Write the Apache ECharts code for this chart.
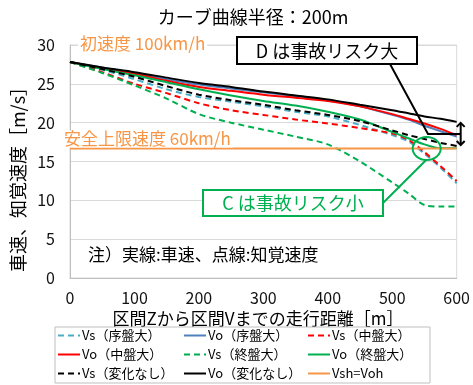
<!DOCTYPE html>
<html>
<head>
<meta charset="utf-8">
<script src="https://cdn.jsdelivr.net/npm/echarts@6/dist/echarts.min.js"></script>
<style>
  html, body { margin: 0; padding: 0; background: #fff; }
  #chart { width: 473px; height: 385px; }
</style>
</head>
<body>
<div id="chart"></div>
<script>
// 走行距離 [m]
const dist = [0, 50, 100, 150, 200, 250, 300, 350, 400, 450, 500, 525, 550, 575, 600];

// 知覚速度 Vs / 車速 Vo [m/s]
const vsEarly  = [27.8, 26.8, 25.6, 24.3, 23.3, 22.7, 22.1, 21.4, 20.8, 19.7, 18.4, 17.6, 16.0, 14.2, 12.2];
const voEarly  = [27.8, 27.1, 26.4, 25.6, 24.9, 24.4, 23.9, 23.4, 22.9, 22.1, 21.0, 20.4, 19.6, 18.9, 18.2];
const vsMid    = [27.8, 26.5, 25.0, 23.8, 22.5, 21.6, 21.0, 20.4, 19.9, 19.3, 18.6, 17.8, 16.2, 14.4, 12.5];
const voMid    = [27.8, 27.0, 26.3, 25.4, 24.6, 24.1, 23.6, 23.2, 22.8, 22.1, 21.1, 20.5, 19.9, 19.2, 18.4];
const vsLate   = [27.8, 26.4, 24.8, 23.1, 21.1, 20.0, 19.1, 18.2, 17.2, 15.0, 12.3, 10.9, 9.4, 9.2, 9.2];
const voLate   = [27.8, 26.9, 26.1, 25.2, 24.3, 23.5, 22.8, 22.2, 21.4, 20.4, 18.8, 18.0, 17.2, 16.7, 16.7];
const vsNone   = [27.8, 26.9, 25.9, 24.7, 23.6, 22.9, 22.3, 21.6, 21.0, 20.2, 19.0, 18.4, 17.9, 17.4, 17.0];
const voNone   = [27.8, 27.1, 26.5, 25.8, 25.1, 24.6, 24.0, 23.5, 23.0, 22.3, 21.6, 21.2, 20.8, 20.5, 20.1];
// 安全上限速度 60km/h
const limitDist = [0, 600];
const limitSpeed = [16.67, 16.67];

const yTicks = { min: 0, max: 30, step: 5 };
const xTicks = { min: 0, max: 600, step: 100 };

const FONT = "'Noto Sans CJK JP', 'Noto Sans', sans-serif";
const ORANGE = '#F79646';
const GREEN = '#00B050';

const pairs = (xs, ys) => xs.map((x, i) => [x, ys[i]]);

const seriesDefs = [
  { name: 'Vs（序盤大）', data: vsEarly, color: '#4BACC6', dashed: true },
  { name: 'Vo（序盤大）', data: voEarly, color: '#4F81BD', dashed: false },
  { name: 'Vs（中盤大）', data: vsMid,   color: '#FF0000', dashed: true },
  { name: 'Vo（中盤大）', data: voMid,   color: '#FF0000', dashed: false },
  { name: 'Vs（終盤大）', data: vsLate,  color: GREEN,     dashed: true },
  { name: 'Vo（終盤大）', data: voLate,  color: GREEN,     dashed: false },
  { name: 'Vs（変化なし）', data: vsNone, color: '#000000', dashed: true },
  { name: 'Vo（変化なし）', data: voNone, color: '#000000', dashed: false }
];

const series = seriesDefs.map(d => ({
  name: d.name,
  type: 'line',
  data: pairs(dist, d.data),
  smooth: 0.3,
  symbol: 'none',
  showSymbol: false,
  color: d.color,
  lineStyle: { color: d.color, width: 2, type: d.dashed ? [6, 4] : 'solid' }
}));
series.push({
  name: 'Vsh=Voh',
  type: 'line',
  data: pairs(limitDist, limitSpeed),
  symbol: 'none',
  showSymbol: false,
  color: ORANGE,
  lineStyle: { color: ORANGE, width: 2 }
});

const names = series.map(s => s.name);
const legendCommon = {
  orient: 'vertical',
  top: 329,
  itemWidth: 22,
  itemHeight: 12,
  itemGap: 6,
  padding: 0,
  itemStyle: { opacity: 0 },
  textStyle: { fontFamily: FONT, fontSize: 13, color: '#000', padding: [0, 0, 0, -3] }
};

const chart = echarts.init(document.getElementById('chart'), null, { renderer: 'canvas' });

chart.setOption({
  animation: false,
  backgroundColor: '#fff',
  textStyle: { fontFamily: FONT },
  grid: { left: 70, top: 45, width: 388, height: 233, show: true, borderColor: '#D9D9D9', borderWidth: 1 },
  xAxis: {
    type: 'value', min: xTicks.min, max: xTicks.max, interval: xTicks.step,
    axisLine: { show: true, lineStyle: { color: '#BFBFBF', width: 1 } },
    axisTick: { show: false },
    splitLine: { show: false },
    axisLabel: { color: '#111', fontSize: 16, margin: 12, fontFamily: FONT }
  },
  yAxis: {
    type: 'value', min: yTicks.min, max: yTicks.max, interval: yTicks.step,
    axisLine: { show: true, lineStyle: { color: '#BFBFBF', width: 1 } },
    axisTick: { show: false },
    splitLine: { show: true, lineStyle: { color: '#D9D9D9', width: 1 } },
    axisLabel: { color: '#111', fontSize: 16, margin: 15, fontFamily: FONT }
  },
  legend: [
    Object.assign({}, legendCommon, { left: 57, data: [names[0], names[3], names[6]] }),
    Object.assign({}, legendCommon, { left: 183, data: [names[1], names[4], names[7]] }),
    Object.assign({}, legendCommon, { left: 307, data: [names[2], names[5], names[8]] })
  ],
  series: series
});

// 注記（矢印・円は軸座標から位置を求める）
const px = p => chart.convertToPixel({ xAxisIndex: 0, yAxisIndex: 0 }, p);
const lastIdx = dist.length - 1;
const dTop = px([dist[lastIdx], voNone[lastIdx]]);
const dBot = px([dist[lastIdx], vsNone[lastIdx]]);
const arrowX = dTop[0] + 4;
const dMidY = (dTop[1] + dBot[1]) / 2;
const cPt = px([555, limitSpeed[0]]);

chart.setOption({
  graphic: [
    { type: 'text', x: 253, y: 17, style: { text: 'カーブ曲線半径：200m', font: '18px ' + FONT, fill: '#000', align: 'center', verticalAlign: 'middle' } },
    { type: 'text', x: 18, y: 175, rotation: Math.PI / 2, style: { text: '車速、知覚速度［m/s］', font: '18px ' + FONT, fill: '#000', align: 'center', verticalAlign: 'middle' } },
    { type: 'text', x: 258, y: 319, style: { text: '区間Zから区間Vまでの走行距離［m］', font: '17px ' + FONT, fill: '#000', align: 'center', verticalAlign: 'middle' } },
    { type: 'text', x: 78, y: 44, z: 10, style: { text: '初速度 100km/h', font: '17px ' + FONT, fill: ORANGE, verticalAlign: 'middle', backgroundColor: '#fff', padding: [0, 2] } },
    { type: 'text', x: 62, y: 139, z: 10, style: { text: '安全上限速度 60km/h', font: '17px ' + FONT, fill: ORANGE, verticalAlign: 'middle', backgroundColor: '#fff', padding: [0, 2] } },
    { type: 'text', x: 88, y: 255, z: 10, style: { text: '注）実線:車速、点線:知覚速度', font: '17px ' + FONT, fill: '#000', verticalAlign: 'middle' } },
    // D 注記
    { type: 'polyline', z: 20, shape: { points: [[390, 64], [428, dMidY], [arrowX, dMidY]] }, style: { stroke: '#000', lineWidth: 2, fill: null } },
    { type: 'rect', z: 21, shape: { x: 237, y: 37, width: 180, height: 27 }, style: { fill: '#fff', stroke: '#000', lineWidth: 2 } },
    { type: 'text', z: 22, x: 327, y: 51, style: { text: 'D は事故リスク大', font: '18px ' + FONT, fill: '#000', align: 'center', verticalAlign: 'middle' } },
    { type: 'line', z: 20, shape: { x1: arrowX, y1: dTop[1] + 1, x2: arrowX, y2: dBot[1] - 1 }, style: { stroke: '#000', lineWidth: 2 } },
    { type: 'polyline', z: 20, shape: { points: [[arrowX - 4, dTop[1] + 5], [arrowX, dTop[1] + 1], [arrowX + 4, dTop[1] + 5]] }, style: { stroke: '#000', lineWidth: 2, fill: null } },
    { type: 'polyline', z: 20, shape: { points: [[arrowX - 4, dBot[1] - 5], [arrowX, dBot[1] - 1], [arrowX + 4, dBot[1] - 5]] }, style: { stroke: '#000', lineWidth: 2, fill: null } },
    // C 注記
    { type: 'ellipse', z: 20, shape: { cx: cPt[0] - 1, cy: cPt[1], rx: 14, ry: 11.5 }, style: { stroke: GREEN, lineWidth: 2, fill: null } },
    { type: 'line', z: 20, shape: { x1: 383, y1: 203, x2: cPt[0] - 1, y2: cPt[1] + 11 }, style: { stroke: GREEN, lineWidth: 2 } },
    { type: 'rect', z: 21, shape: { x: 203, y: 190, width: 180, height: 26 }, style: { fill: '#fff', stroke: GREEN, lineWidth: 2 } },
    { type: 'text', z: 22, x: 293, y: 203, style: { text: 'C は事故リスク小', font: '18px ' + FONT, fill: GREEN, align: 'center', verticalAlign: 'middle' } },
    // 凡例枠
    { type: 'rect', z: 0, shape: { x: 55, y: 327, width: 375, height: 56 }, style: { fill: null, stroke: '#BFBFBF', lineWidth: 1 } }
  ]
});
</script>
</body>
</html>
